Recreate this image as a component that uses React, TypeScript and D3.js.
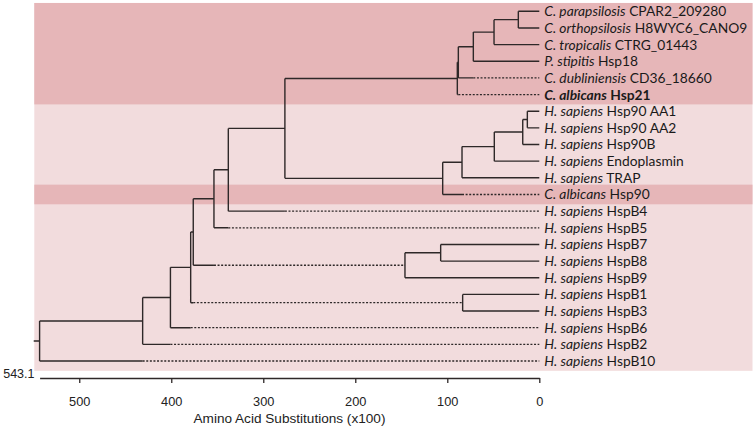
import React, { useEffect, useRef } from "react";
import * as d3 from "d3";

// ---- DATA ----
const leafSpecies = [
  "C. parapsilosis", "C. orthopsilosis", "C. tropicalis", "P. stipitis", "C. dubliniensis", "C. albicans",
  "H. sapiens", "H. sapiens", "H. sapiens", "H. sapiens", "H. sapiens", "C. albicans",
  "H. sapiens", "H. sapiens", "H. sapiens", "H. sapiens", "H. sapiens", "H. sapiens",
  "H. sapiens", "H. sapiens", "H. sapiens", "H. sapiens",
];
const leafGenes = [
  "CPAR2_209280", "H8WYC6_CANO9", "CTRG_01443", "Hsp18", "CD36_18660", "Hsp21",
  "Hsp90 AA1", "Hsp90 AA2", "Hsp90B", "Endoplasmin", "TRAP", "Hsp90",
  "HspB4", "HspB5", "HspB7", "HspB8", "HspB9", "HspB1", "HspB3", "HspB6", "HspB2", "HspB10",
];
const boldLeaves = [5];

// tree nodes: id, parent, height (amino acid substitutions x100)
const nodeIds = [
  "root", "B", "L21", "C", "L20", "D", "L19", "E", "F", "G", "H", "J", "L13", "K", "L12",
  "Lc", "M", "T", "L5", "S", "L4", "U", "L3", "V", "L2", "L0", "L1",
  "N", "L11", "O", "L10", "P", "L9", "Q", "L8", "L6", "L7",
  "I", "L16", "L14", "L15", "L17", "L18",
];
const nodeParents = [
  "", "root", "root", "B", "B", "C", "C", "D", "D", "E", "E", "G", "G", "J", "J",
  "K", "K", "Lc", "Lc", "T", "T", "S", "S", "U", "U", "V", "V",
  "M", "M", "N", "N", "O", "O", "P", "P", "Q", "Q",
  "H", "H", "I", "I", "F", "F",
];
const nodeHeights = [
  543.1, 431.1, 0, 400.9, 0, 378.9, 0, 376.1, 83.3, 353.6, 146.0, 338.0, 0, 276.5, 0,
  89.1, 105.0, 88.0, 0, 71.7, 0, 49.2, 0, 22.8, 0, 0, 0,
  84.0, 0, 48.9, 0, 18.0, 0, 13.0, 0, 0, 0,
  107.2, 0, 0, 0, 0, 0,
];
// branches drawn solid only up to the tallest sibling, dotted beyond
const dottedBranches = ["L21", "L20", "L19", "F", "H", "L13", "L12", "L5", "L4", "L11"];
const rootStubHeight = 549.5;

const axisTicks = [500, 400, 300, 200, 100, 0];
const axisTitle = "Amino Acid Substitutions (x100)";
const rootLabel = "543.1";

// shaded groups (last leaf index of each group)
const bandLastLeaf = [5, 10, 11, 21];
const bandDark = [true, false, true, false];

// ---- LAYOUT ----
const W = 756, H = 426;
const LINE = "#2e2828";
const DARK = "#e6b6b8";
const LIGHT = "#f2dcdd";

type N = { id: string; parent: string; h: number };

export default function App() {
  const axisRef = useRef<SVGGElement>(null);

  const x = d3.scaleLinear().domain([543.1, 0]).range([39.6, 539.3]);
  const y = d3.scaleLinear().domain([0, 21]).range([11.3, 361]);
  const step = y(1) - y(0);

  const data: N[] = nodeIds.map((id, i) => ({ id, parent: nodeParents[i], h: nodeHeights[i] }));
  const root = d3.stratify<N>().id(d => d.id).parentId(d => d.parent || null)(data);

  const yPos = new Map<string, number>();
  root.eachAfter(n => {
    if (!n.children) yPos.set(n.id!, y(+n.id!.slice(1)));
    else {
      const c = n.children;
      yPos.set(n.id!, (yPos.get(c[0].id!)! + yPos.get(c[c.length - 1].id!)!) / 2);
    }
  });

  const solid: string[] = [];
  const dotted: string[] = [];
  root.each(n => {
    const ny = yPos.get(n.id!)!;
    if (n.children) {
      const c = n.children;
      solid.push(`M${x(n.data.h)},${yPos.get(c[0].id!)}V${yPos.get(c[c.length - 1].id!)}`);
    }
    if (!n.parent) {
      solid.push(`M${x(rootStubHeight)},${ny}H${x(n.data.h)}`);
      return;
    }
    const ph = n.parent.data.h;
    if (dottedBranches.includes(n.id!)) {
      const sib = d3.max(n.parent.children!.filter(s => s !== n), s => s.data.h)!;
      solid.push(`M${x(ph)},${ny}H${x(sib)}`);
      dotted.push(`M${x(sib)},${ny}H${x(n.data.h)}`);
    } else {
      solid.push(`M${x(ph)},${ny}H${x(n.data.h)}`);
    }
  });

  // bands
  const bands: { y0: number; y1: number; dark: boolean }[] = [];
  let start = 0;
  bandLastLeaf.forEach((last, i) => {
    const pad = bandDark[i] ? 1.5 : 0;
    bands.push({
      y0: y(start) - step / 2 - (start > 0 ? pad : 0),
      y1: y(last) + step / 2 + pad,
      dark: bandDark[i],
    });
    start = last + 1;
  });
  const bandTop = y(0) - step / 2;
  const bandBottom = y(21) + step / 2 + 1.5;

  useEffect(() => {
    const g = d3.select(axisRef.current!);
    g.selectAll("*").remove();
    g.call(
      d3.axisBottom(x).tickValues(axisTicks).tickSize(5).tickSizeOuter(0).tickPadding(14).tickFormat(d3.format("d"))
    );
    g.select(".domain").attr("stroke", LINE).attr("stroke-width", 1.3);
    g.selectAll(".tick line").attr("stroke", LINE).attr("stroke-width", 1.3);
    g.selectAll(".tick text")
      .attr("fill", "#222")
      .style("font-family", "'Liberation Sans', Arial, sans-serif")
      .style("font-size", "12.8px");
  }, []);

  const labelFont = "Lato, 'Open Sans', sans-serif";

  return (
    <svg width={W} height={H} style={{ position: "absolute", left: 0, top: 0, background: "#fff" }}>
      <rect x={34.3} y={bandTop} width={752.5 - 34.3} height={bandBottom - bandTop} fill={LIGHT} />
      {bands.filter(b => b.dark).map((b, i) => (
        <rect key={i} x={34.3} y={b.y0} width={752.5 - 34.3} height={b.y1 - b.y0} fill={DARK} />
      ))}
      <path d={solid.join("")} fill="none" stroke={LINE} strokeWidth={1.4} />
      <path d={dotted.join("")} fill="none" stroke={LINE} strokeWidth={1.3} strokeDasharray="2,1.6" />
      {leafGenes.map((gene, i) => {
        const bold = boldLeaves.includes(i);
        return (
          <text
            key={i}
            x={x(0) + 5}
            y={y(i)}
            dy="0.36em"
            fill="#1a1a1a"
            style={{ fontFamily: labelFont, fontSize: "13.8px", fontWeight: bold ? 700 : 400 }}
          >
            <tspan fontStyle="italic">{leafSpecies[i]}</tspan>
            <tspan> {gene}</tspan>
          </text>
        );
      })}
      <g ref={axisRef} transform={`translate(0,378)`} />
      <text x={34.5} y={378.3} textAnchor="end" fill="#222"
        style={{ fontFamily: "'Liberation Sans', Arial, sans-serif", fontSize: "12.5px" }}>{rootLabel}</text>
      <text x={(x(543.1) + x(0)) / 2} y={422.5} textAnchor="middle" fill="#222"
        style={{ fontFamily: "'Liberation Sans', Arial, sans-serif", fontSize: "13.6px" }}>{axisTitle}</text>
    </svg>
  );
}
